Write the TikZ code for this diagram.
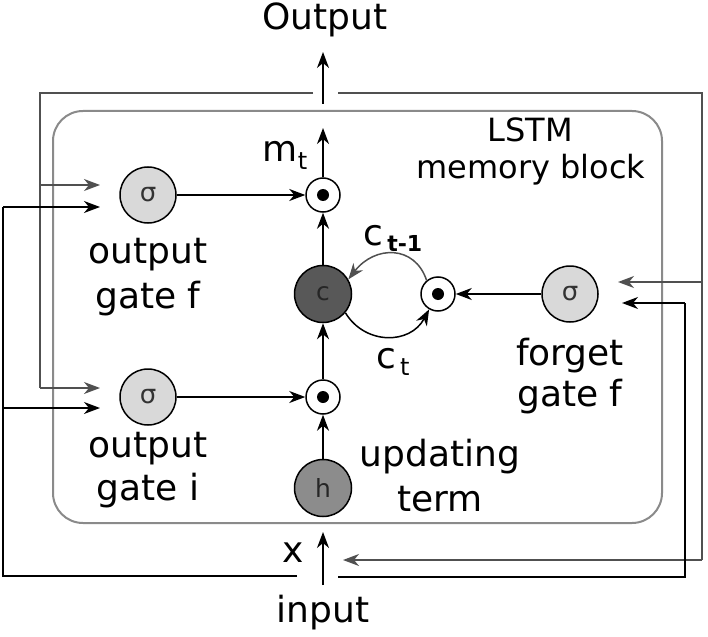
\documentclass[tikz,border=0pt]{standalone}
\usepackage{fontspec}
\setmainfont{DejaVu Sans}
\usetikzlibrary{arrows.meta}
\definecolor{sigfill}{HTML}{D9D9D9}
\definecolor{cfill}{HTML}{585858}
\definecolor{hfill}{HTML}{8C8C8C}
\definecolor{boxgray}{HTML}{8A8A8A}
\definecolor{loopgray}{HTML}{505050}
\begin{document}
\begin{tikzpicture}[x=1pt,y=-1pt,
  tip/.style={-{Stealth[length=16pt,width=12pt,inset=5pt]}},
  ln/.style={line width=1.5pt, black},
  gln/.style={line width=1.5pt, loopgray},
  arr/.style={ln, tip},
  garr/.style={gln, tip},
  sig/.style={circle, draw, line width=1.5pt, fill=sigfill, minimum size=56pt, inner sep=0pt,
    text=black!80, font=\fontsize{26}{26}\selectfont},
  prod/.style={circle, draw, line width=1.5pt, fill=white, minimum size=34pt, inner sep=0pt,
    path picture={\fill[black] (path picture bounding box.center) circle (6pt);}},
  cell/.style={circle, draw, line width=1.5pt, minimum size=57pt, inner sep=0pt,
    text=black!85, font=\fontsize{25}{25}\selectfont},
  lbl/.style={anchor=base, inner sep=0pt, font=\fontsize{36}{40}\selectfont},
  slbl/.style={anchor=base, inner sep=0pt, font=\fontsize{32}{36}\selectfont},
]
\useasboundingbox (0,0) rectangle (708,636);

% memory block
\draw[boxgray, line width=2pt, rounded corners=30pt] (53,111) rectangle (662,523);

% nodes
\node[sig] (sf) at (148,195) {σ};
\node[sig] (si) at (148,397) {σ};
\node[sig] (sg) at (570,294) {σ};
\node[prod] (pt) at (323,195) {};
\node[prod] (pm) at (323,397) {};
\node[prod] (pr) at (438,294) {};
\node[cell, fill=cfill] (c) at (323,294) {c};
\node[cell, fill=hfill] (h) at (323,488) {h};

% labels
\node[lbl] (out) at (325,30) {Output};
\node[lbl] (inp) at (323,622) {input};
\node[lbl] (xl) at (293,562) {x};
\node[lbl] (mt) at (285,162) {m{\fontsize{24}{24}\selectfont\raisebox{-8pt}{t}}};
\node[slbl] (l1) at (530,142) {LSTM};
\node[slbl] (l2) at (531,179) {memory block};
\node[lbl] (of1) at (148,263) {output};
\node[lbl] (of2) at (148,308) {gate f};
\node[lbl] (oi1) at (148,457) {output};
\node[lbl] (oi2) at (148,500) {gate i};
\node[lbl] (fg1) at (570,365) {forget};
\node[lbl] (fg2) at (570,406) {gate f};
\node[lbl] (ut1) at (440,466) {updating};
\node[lbl] (ut2) at (440,511) {term};
\node[lbl] (cp) at (393,245) {c{\fontsize{22}{22}\selectfont\bfseries\raisebox{-6pt}{\,t-1}}};
\node[lbl] (cc) at (393,368) {c{\fontsize{24}{24}\selectfont\raisebox{-7pt}{\,t}}};

% coordinates
\coordinate (mtop) at (323,128);
\coordinate (oa) at (323,104);
\coordinate (ob) at (323,52);
\coordinate (ia) at (323,585);
\coordinate (ib) at (323,532);
\coordinate (tl1) at (313,93);
\coordinate (tl2) at (40,93);
\coordinate (tl3) at (40,388);
\coordinate (tlb) at (40,185);
\coordinate (tr1) at (338,93);
\coordinate (tr2) at (702,93);
\coordinate (tr3) at (702,560);
\coordinate (trb) at (702,282);
\coordinate (ta1) at (100,185);
\coordinate (ta2) at (100,388);
\coordinate (ta3) at (618,282);
\coordinate (ta4) at (343,560);
\coordinate (bl1) at (297,576);
\coordinate (bl2) at (3,576);
\coordinate (bl3) at (3,207);
\coordinate (blb) at (3,408);
\coordinate (ba1) at (100,207);
\coordinate (ba2) at (100,408);
\coordinate (br1) at (338,577);
\coordinate (br2) at (685,577);
\coordinate (br3) at (685,303);
\coordinate (ba3) at (622,303);

% inner connectors
\draw[arr] (sf) -- (pt);
\draw[arr] (si) -- (pm);
\draw[arr] (sg) -- (pr);
\draw[arr] (c) -- (pt);
\draw[arr] (pm) -- (c);
\draw[arr] (h) -- (pm);
\draw[arr] (pt) -- (mtop);
\draw[arr] (oa) -- (ob);
\draw[arr] (ia) -- (ib);
\draw[garr] (pr.130) .. controls (415,245) and (375,245) .. (c.30);
\draw[arr] (c.-40) .. controls (365,345) and (410,345) .. (pr.-120);

% output feedback loop (gray)
\draw[gln] (tl1) -- (tl2) -- (tl3);
\draw[garr] (tlb) -- (ta1);
\draw[garr] (tl3) -- (ta2);
\draw[gln] (tr1) -- (tr2) -- (tr3);
\draw[garr] (trb) -- (ta3);
\draw[garr] (tr3) -- (ta4);

% input loop (black)
\draw[ln] (bl1) -- (bl2) -- (bl3);
\draw[arr] (bl3) -- (ba1);
\draw[arr] (blb) -- (ba2);
\draw[ln] (br1) -- (br2) -- (br3);
\draw[arr] (br3) -- (ba3);
\end{tikzpicture}
\end{document}
